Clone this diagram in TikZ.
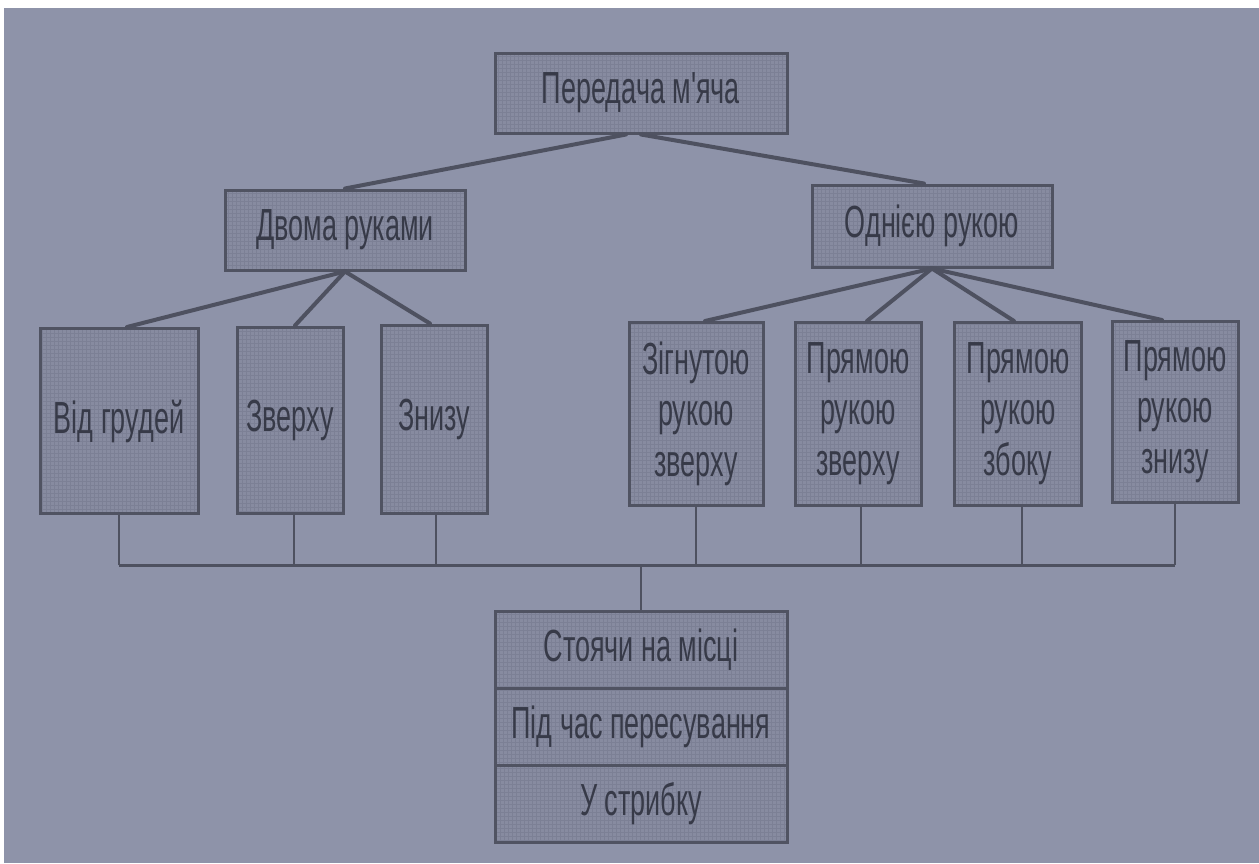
\documentclass[tikz,border=0pt]{standalone}
\usepackage{fontspec}
\newfontfamily\cond[FakeStretch=0.6]{Liberation Sans}
\definecolor{bgc}{RGB}{142,147,169}
\definecolor{boxc}{RGB}{135,139,160}
\definecolor{gridc}{RGB}{124,128,149}
\definecolor{bord}{RGB}{80,83,98}
\definecolor{txt}{RGB}{55,58,72}
\definecolor{linec}{RGB}{78,81,96}
\tikzset{
  box/.style={draw=bord, line width=3pt, fill=boxc, text=txt, inner sep=0pt, align=center,
    font=\cond\fontsize{45}{51}\selectfont,
    path picture={\draw[gridc, line width=0.5pt] (path picture bounding box.south west) grid[step=4pt] (path picture bounding box.north east);}},
  conn/.style={draw=linec, line width=4pt, line cap=round},
}
\begin{document}
\begin{tikzpicture}[x=1pt,y=-1pt]
\useasboundingbox (0,0) rectangle (1259,863);
\fill[white] (0,0) rectangle (1259,863);
\fill[bgc] (4,8) rectangle (1259,863);

\node[box, minimum width=292pt, minimum height=80pt] (top) at (641,93) {Передача м'яча};
\node[box, minimum width=240pt, minimum height=80pt] (dvoma) at (345,230) {Двома руками};
\node[box, minimum width=240pt, minimum height=82pt] (odniei) at (932,226) {Однією рукою};

\node[box, minimum width=158pt, minimum height=185pt] (b1) at (119,421) {Від грудей};
\node[box, minimum width=106pt, minimum height=186pt] (b2) at (290,420) {Зверху};
\node[box, minimum width=106pt, minimum height=188pt] (b3) at (434,419) {Знизу};
\node[box, minimum width=134pt, minimum height=183pt] (b4) at (696,414) {Зігнутою\\рукою\\зверху};
\node[box, minimum width=126pt, minimum height=183pt] (b5) at (858,414) {Прямою\\рукою\\зверху};
\node[box, minimum width=127pt, minimum height=183pt] (b6) at (1018,414) {Прямою\\рукою\\збоку};
\node[box, minimum width=126pt, minimum height=181pt] (b7) at (1175,412) {Прямою\\рукою\\знизу};

\node[box, minimum width=292pt, minimum height=77pt] (r1) at (641,650) {Стоячи на місці};
\node[box, minimum width=292pt, minimum height=77pt] (r2) at (641,727) {Під час пересування};
\node[box, minimum width=292pt, minimum height=77pt] (r3) at (641,804) {У стрибку};

% top level connectors
\draw[conn] ([xshift=-15pt]top.south) -- ([xshift=0pt]dvoma.north);
\draw[conn] ([xshift=0pt]top.south) -- ([xshift=-8pt]odniei.north);

% second level connectors
\draw[conn] (dvoma.south) -- ([xshift=8pt]b1.north);
\draw[conn] (dvoma.south) -- ([xshift=5pt]b2.north);
\draw[conn] (dvoma.south) -- ([xshift=-4pt]b3.north);
\draw[conn] (odniei.south) -- ([xshift=9pt]b4.north);
\draw[conn] (odniei.south) -- ([xshift=9pt]b5.north);
\draw[conn] (odniei.south) -- ([xshift=-4pt]b6.north);
\draw[conn] (odniei.south) -- ([xshift=-13pt]b7.north);

% bus
\coordinate (bus) at (0,565);
\coordinate (v1) at (b1.south);
\coordinate (v2) at ([xshift=4pt]b2.south);
\coordinate (v3) at ([xshift=2pt]b3.south);
\coordinate (v4) at (b4.south);
\coordinate (v5) at ([xshift=3pt]b5.south);
\coordinate (v6) at ([xshift=4pt]b6.south);
\coordinate (v7) at (b7.south);
\draw[draw=linec, line width=3pt] (v1 |- bus) -- (v7 |- bus);
\foreach \v in {v1,v2,v3,v4,v5,v6,v7}{
  \draw[draw=linec, line width=2.5pt] (\v) -- (\v |- bus);
}
\draw[draw=linec, line width=2.5pt] (r1.north |- bus) -- (r1.north);
\end{tikzpicture}
\end{document}
